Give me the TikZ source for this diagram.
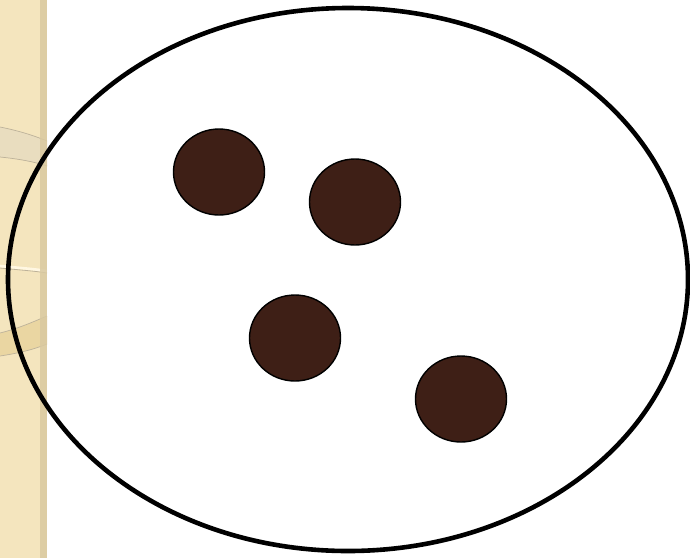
\documentclass[tikz,border=0pt]{standalone}
\usetikzlibrary{shapes.geometric}
\definecolor{beige}{HTML}{F4E5BE}
\definecolor{beigedark}{HTML}{D9C9A0}
\definecolor{bandgrey}{HTML}{E9DDBF}
\definecolor{bandgold}{HTML}{EAD6A2}
\definecolor{edgec}{HTML}{BDB29A}
\definecolor{creamline}{HTML}{FFF7E2}
\definecolor{blob}{HTML}{3E1F16}
\tikzset{
  blobnode/.style={ellipse, draw=black, line width=1.4pt, fill=blob, minimum width=91pt, minimum height=86pt, inner sep=0pt},
  bigoval/.style={ellipse, draw=black, line width=4.6pt, minimum width=680pt, minimum height=543pt, inner sep=0pt},
  ringedge/.style={edgec, line width=0.7pt}
}
\begin{document}
\begin{tikzpicture}[x=1pt,y=-1pt]
\useasboundingbox (0,0) rectangle (690,558);
\fill[white] (0,0) rectangle (690,558);
% left decorative strip
\fill[beige] (0,0) rectangle (47,558);
\begin{scope}
\clip (0,0) rectangle (47,558);
\fill[bandgrey] (0,127) .. controls (20,131) and (35,136) .. (47,141) -- (47,166) .. controls (35,162) and (20,159) .. (0,157) -- cycle;
\draw[ringedge] (0,127) .. controls (20,131) and (35,136) .. (47,141);
\draw[ringedge] (0,157) .. controls (20,159) and (35,162) .. (47,166);
\draw[edgec, line width=0.8pt] (0,268) .. controls (20,270) and (35,271) .. (47,273);
\draw[creamline, line width=2.6pt] (0,266) .. controls (20,268) and (35,269) .. (47,271);
\fill[bandgold] (0,333) .. controls (20,328) and (35,321) .. (47,316) -- (47,344) .. controls (35,349) and (20,353) .. (0,356) -- cycle;
\draw[ringedge] (0,333) .. controls (20,328) and (35,321) .. (47,316);
\draw[ringedge] (0,356) .. controls (20,353) and (35,349) .. (47,344);
\end{scope}
\fill[beigedark, opacity=0.85] (40,0) rectangle (47,558);
\node[bigoval] (oval) at (348,279.5) {};
\node[blobnode] (b1) at (219,172) {};
\node[blobnode] (b2) at (355,202) {};
\node[blobnode] (b3) at (295,338) {};
\node[blobnode] (b4) at (461,399) {};
\end{tikzpicture}
\end{document}
